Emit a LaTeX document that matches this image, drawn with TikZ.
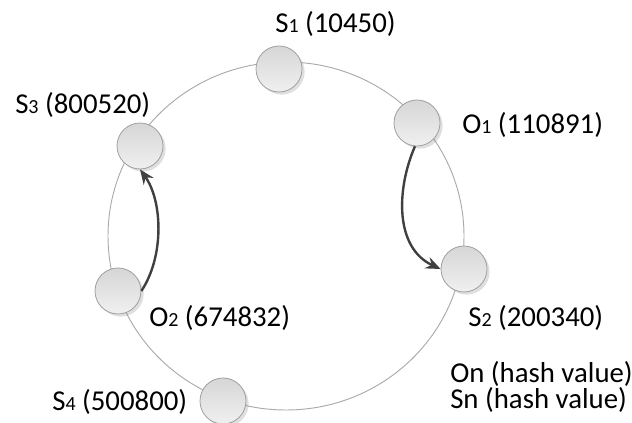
\documentclass[tikz,border=0pt]{standalone}
\usepackage{fontspec}
\setmainfont{Carlito}
\usetikzlibrary{shadows,arrows.meta}
\definecolor{ringc}{RGB}{170,170,170}
\definecolor{nodeb}{RGB}{160,160,160}
\definecolor{arrc}{RGB}{64,64,64}
\newcommand{\sbs}[1]{{\fontsize{15}{15}\selectfont #1}}
\tikzset{
  hashnode/.style={circle, minimum size=34.5pt, inner sep=0pt, draw=nodeb, line width=0.6pt,
    top color={rgb,255:red,214;green,214;blue,214}, bottom color={rgb,255:red,240;green,240;blue,240},
    drop shadow={shadow xshift=2pt, shadow yshift=-2pt, opacity=0.25, fill=gray}},
  lbl/.style={anchor=west, inner sep=0pt, font=\fontsize{21.6}{24}\selectfont},
  ring/.style={draw=ringc, line width=0.7pt},
  moveto/.style={draw=arrc, line width=1.8pt, -{Stealth[length=11pt,width=9pt]}}
}
\begin{document}
\begin{tikzpicture}[x=0.75pt,y=-0.75pt]
\useasboundingbox (0,0) rectangle (632,423);
\draw[ring] (286,236) ellipse [x radius=178, y radius=174];
\node[hashnode] (s1) at (279,69) {};
\node[hashnode] (o1) at (417,123) {};
\node[hashnode] (s3) at (140,146) {};
\node[hashnode] (o2) at (118,291) {};
\node[hashnode] (s2) at (464,269) {};
\node[hashnode] (s4) at (223,401) {};
\node[lbl] (l1) at (275,24) {S\sbs{1} (10450)};
\node[lbl] (l2) at (462,125) {O\sbs{1} (110891)};
\node[lbl] (l3) at (15,105) {S\sbs{3} (800520)};
\node[lbl] (l4) at (149,318) {O\sbs{2} (674832)};
\node[lbl] (l5) at (468,318) {S\sbs{2} (200340)};
\node[lbl] (l6) at (52,402) {S\sbs{4} (500800)};
\node[lbl, align=left, font=\fontsize{21.6}{18}\selectfont] (l7) at (450,387) {On (hash value)\\Sn (hash value)};
\draw[moveto] (o1.265) .. controls (396,190) and (395,248) .. (s2.west);
\draw[moveto] (o2.east) .. controls (165,255) and (162,200) .. (s3.south);
\end{tikzpicture}
\end{document}
